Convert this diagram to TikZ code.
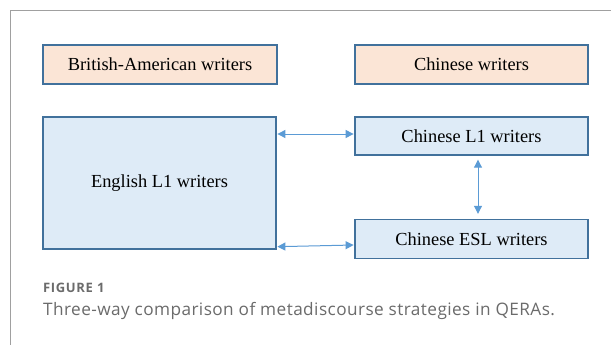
\documentclass[tikz,border=0pt]{standalone}
\usepackage{fontspec}
\setmainfont{Liberation Serif}
\newfontfamily\capfont{Open Sans}
\usetikzlibrary{arrows.meta}
\definecolor{peach}{HTML}{FBE5D6}
\definecolor{paleblue}{HTML}{DEEBF7}
\definecolor{boxline}{HTML}{41719C}
\definecolor{arrcol}{HTML}{5B9BD5}
\definecolor{framegray}{HTML}{A0A0A0}
\definecolor{capgray}{HTML}{6B6B6B}
\tikzset{
  wbox/.style={draw=boxline, line width=1.4pt, inner sep=0pt, minimum width=233pt, minimum height=38pt, font=\fontsize{18.4}{22}\selectfont, text=black},
  pbox/.style={wbox, fill=peach},
  bbox/.style={wbox, fill=paleblue},
  arr/.style={draw=arrcol, line width=1pt, {Triangle[length=8pt,width=8pt]}-{Triangle[length=8pt,width=8pt]}},
  caphead/.style={anchor=base west, inner sep=0pt, text=capgray, font=\capfont\bfseries\addfontfeature{LetterSpace=5}\fontsize{13}{15}\selectfont},
  captext/.style={anchor=base west, inner sep=0pt, text=capgray, font=\capfont\addfontfeature{LetterSpace=2.5}\fontsize{17.2}{20}\selectfont}
}
\begin{document}
\begin{tikzpicture}[x=1pt,y=-1pt]
\useasboundingbox (0,0) rectangle (611,345);
\fill[white] (0,0) rectangle (611,345);
\draw[framegray, line width=1pt] (10,345) -- (10,11) -- (611,11);
\node[pbox, minimum width=234pt, minimum height=39pt] (ba) at (160,64.5) {British-American writers};
\node[pbox, minimum height=39pt] (cw) at (471.5,64.5) {Chinese writers};
\node[bbox, minimum height=132pt] (eng) at (159.5,183) {English L1 writers};
\node[bbox] (cl1) at (471.5,136) {Chinese L1 writers};
\node[bbox, minimum height=39pt] (esl) at (471.5,239) {Chinese ESL writers};
\draw[arr, shorten <=0.7pt, shorten >=0.7pt] ([yshift=2pt]eng.east |- cl1.west) -- ([yshift=2pt]cl1.west);
\draw[arr, shorten <=0.7pt, shorten >=0.7pt] ([yshift=3pt]eng.south east) -- ([yshift=-6pt]esl.west);
\draw[arr, shorten <=4pt, shorten >=5pt] ([xshift=6.5pt]cl1.south) -- ([xshift=6.5pt]esl.north);
\node[caphead] (fig) at (43,292) {FIGURE 1};
\node[captext] (cap) at (43,315) {Three-way comparison of metadiscourse strategies in QERAs.};
\end{tikzpicture}
\end{document}
